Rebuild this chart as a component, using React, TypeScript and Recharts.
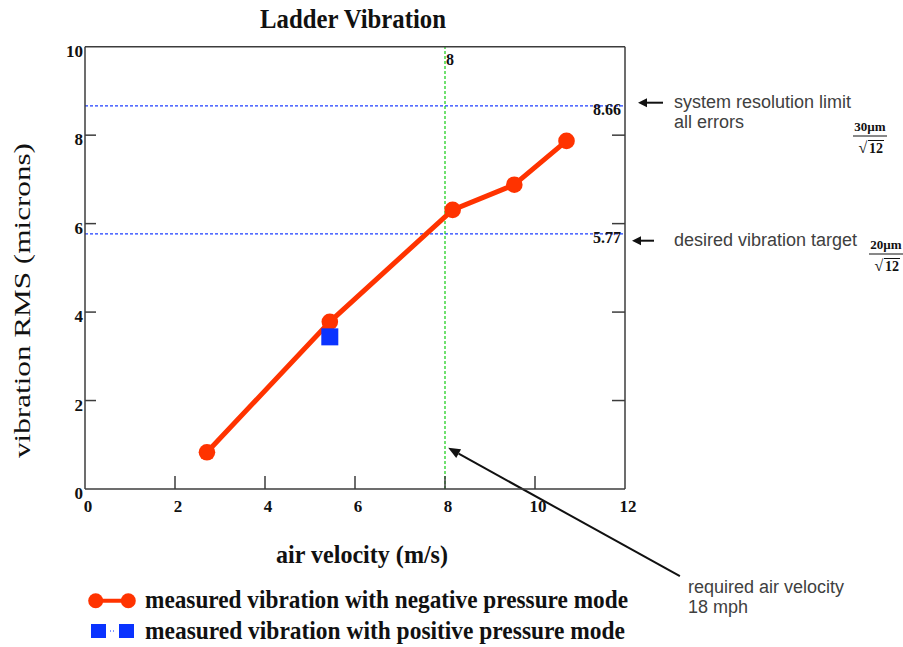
import { ComposedChart, Line, Scatter, XAxis, YAxis, ReferenceLine } from "recharts";

const velocityNegative = [2.71, 5.44, 8.17, 9.54, 10.7];
const vibrationNegative = [0.83, 3.78, 6.31, 6.88, 7.87];
const velocityPositive = [5.44];
const vibrationPositive = [3.44];
const xTicks = [0, 2, 4, 6, 8, 10, 12];
const yTicks = [0, 2, 4, 6, 8, 10];
const resolutionLimit = 8.66;
const vibrationTarget = 5.77;
const requiredVelocity = 8;
const arrowTail = { x: 13.22, y: -1.97 };
const arrowTip = { x: 8.07, y: 0.93 };

const negativeData = velocityNegative.map((x, i) => ({ x, y: vibrationNegative[i] }));
const positiveData = velocityPositive.map((x, i) => ({ x, y: vibrationPositive[i] }));

const RED = "#ff3300";
const BLUE = "#0a33ff";
const AXIS = "#3c3c3c";
const SERIF = "'Liberation Serif', 'Times New Roman', serif";
const SANS = "'Liberation Sans', Arial, sans-serif";
const GRAY = "#404040";

const LeftTick = ({ x, y, payload }: any) => (
  <g>
    {payload.value !== 0 && payload.value !== 10 && (
      <line x1={x + 2} x2={x + 13} y1={y} y2={y} stroke={AXIS} strokeWidth={1.5} />
    )}
    <text x={x} y={y + 10} textAnchor="end" fontFamily={SERIF} fontWeight="bold" fontSize={17} fill="#111">
      {payload.value}
    </text>
  </g>
);

const BottomTick = ({ x, y, payload }: any) => (
  <g>
    {payload.value !== 0 && payload.value !== 12 && (
      <line x1={x} x2={x} y1={y} y2={y - 13} stroke={AXIS} strokeWidth={1.5} />
    )}
    <text x={x + 3} y={y + 23} textAnchor="middle" fontFamily={SERIF} fontWeight="bold" fontSize={17} fill="#111">
      {payload.value}
    </text>
  </g>
);

const TopTick = ({ x, y, payload }: any) =>
  payload.value !== 0 && payload.value !== 12 ? (
    <line x1={x} x2={x} y1={y} y2={y + 14} stroke={AXIS} strokeWidth={1.5} />
  ) : (
    <g />
  );

const RightTick = ({ x, y, payload }: any) =>
  payload.value !== 0 && payload.value !== 10 ? (
    <line x1={x} x2={x - 13} y1={y} y2={y} stroke={AXIS} strokeWidth={1.5} />
  ) : (
    <g />
  );

const HLabel = ({ viewBox, value }: any) => (
  <text
    x={viewBox.x + viewBox.width - 4}
    y={viewBox.y + 9}
    textAnchor="end"
    fontFamily={SERIF}
    fontWeight="bold"
    fontSize={16}
    fill="#111"
  >
    {value}
  </text>
);

const VLabel = ({ viewBox, value }: any) => (
  <text x={viewBox.x + 5} y={viewBox.y + 18} textAnchor="middle" fontFamily={SERIF} fontWeight="bold" fontSize={16} fill="#111">
    {value}
  </text>
);

const ArrowShape = ({ x1, y1, x2, y2 }: any) => {
  const a = Math.atan2(y2 - y1, x2 - x1);
  const L = 12;
  const W = 5;
  const bx = x2 - L * Math.cos(a);
  const by = y2 - L * Math.sin(a);
  const pts = `${x2},${y2} ${bx - W * Math.sin(a)},${by + W * Math.cos(a)} ${bx + W * Math.sin(a)},${by - W * Math.cos(a)}`;
  return (
    <g>
      <line x1={x1} y1={y1} x2={bx} y2={by} stroke="#111" strokeWidth={2} />
      <polygon points={pts} fill="#111" />
    </g>
  );
};

const Square = ({ cx, cy }: any) => <rect x={cx - 8.5} y={cy - 8.5} width={17} height={17} fill={BLUE} />;

const leftArrow = (x1: number, x2: number, y: number) => (
  <g>
    <line x1={x1} x2={x2 + 8} y1={y} y2={y} stroke="#111" strokeWidth={2} />
    <polygon points={`${x2},${y} ${x2 + 9},${y - 4.5} ${x2 + 9},${y + 4.5}`} fill="#111" />
  </g>
);

const fraction = (cx: number, top: number, num: string) => (
  <g fontFamily={SERIF} fontWeight="bold" fill="#111">
    <text x={cx} y={top} textAnchor="middle" fontSize={13}>
      {num}
    </text>
    <line x1={cx - 17} x2={cx + 17} y1={top + 5} y2={top + 5} stroke="#111" strokeWidth={1} />
    <text x={cx - 7} y={top + 22} textAnchor="middle" fontSize={16} fontWeight="normal">
      {"\u221A"}
    </text>
    <line x1={cx - 2} x2={cx + 14} y1={top + 9.5} y2={top + 9.5} stroke="#111" strokeWidth={1} />
    <text x={cx + 6} y={top + 22} textAnchor="middle" fontSize={14}>
      12
    </text>
  </g>
);

export default function App() {
  return (
    <div style={{ position: "absolute", left: 0, top: 0, width: 903, height: 647, background: "#fff" }}>
      <ComposedChart width={903} height={647} margin={{ top: 36.7, right: 268, bottom: 148, left: 25 }}>
        <XAxis
          xAxisId="bottom"
          type="number"
          dataKey="x"
          domain={[0, 12]}
          ticks={xTicks}
          allowDataOverflow
          height={10}
          tickSize={0}
          tickMargin={0}
          tickLine={false}
          tick={BottomTick}
          stroke={AXIS}
          strokeWidth={1.5}
        />
        <XAxis
          xAxisId="top"
          orientation="top"
          type="number"
          domain={[0, 12]}
          ticks={xTicks}
          allowDataOverflow
          height={10}
          tickSize={0}
          tickMargin={0}
          tickLine={false}
          tick={TopTick}
          stroke={AXIS}
          strokeWidth={1.5}
        />
        <YAxis
          yAxisId="left"
          type="number"
          domain={[0, 10]}
          ticks={yTicks}
          allowDataOverflow
          width={60}
          tickSize={0}
          tickMargin={2}
          tickLine={false}
          tick={LeftTick}
          stroke={AXIS}
          strokeWidth={1.5}
        />
        <YAxis
          yAxisId="right"
          orientation="right"
          type="number"
          domain={[0, 10]}
          ticks={yTicks}
          allowDataOverflow
          width={10}
          tickSize={0}
          tickMargin={0}
          tickLine={false}
          tick={RightTick}
          stroke={AXIS}
          strokeWidth={1.5}
        />
        <ReferenceLine
          xAxisId="bottom"
          yAxisId="left"
          y={resolutionLimit}
          stroke="#1f3fff"
          strokeWidth={1.3}
          strokeDasharray="3 2"
          label={<HLabel value={resolutionLimit.toFixed(2)} />}
        />
        <ReferenceLine
          xAxisId="bottom"
          yAxisId="left"
          y={vibrationTarget}
          stroke="#1f3fff"
          strokeWidth={1.3}
          strokeDasharray="3 2"
          label={<HLabel value={vibrationTarget.toFixed(2)} />}
        />
        <ReferenceLine
          xAxisId="bottom"
          yAxisId="left"
          x={requiredVelocity}
          stroke="#11cc11"
          strokeWidth={1.2}
          strokeDasharray="3 2"
          label={<VLabel value={requiredVelocity} />}
        />
        <ReferenceLine
          xAxisId="bottom"
          yAxisId="left"
          segment={[arrowTail, arrowTip]}
          ifOverflow="visible"
          shape={ArrowShape}
        />
        <Line
          xAxisId="bottom"
          yAxisId="left"
          data={negativeData}
          dataKey="y"
          stroke={RED}
          strokeWidth={5}
          dot={{ r: 8.3, fill: RED, stroke: "none" }}
          isAnimationActive={false}
        />
        <Scatter
          xAxisId="bottom"
          yAxisId="left"
          data={positiveData}
          dataKey="y"
          fill={BLUE}
          shape={Square}
          isAnimationActive={false}
        />
      </ComposedChart>
      <svg width={903} height={647} style={{ position: "absolute", left: 0, top: 0, pointerEvents: "none" }}>
        <text
          x={353}
          y={28}
          textAnchor="middle"
          fontFamily={SERIF}
          fontWeight="bold"
          fontSize={27}
          fill="#111"
          textLength={186}
          lengthAdjust="spacingAndGlyphs"
        >
          Ladder Vibration
        </text>
        <text
          transform="translate(30, 300.5) rotate(-90)"
          textAnchor="middle"
          fontFamily={SERIF}
          fontSize={24}
          fill="#111"
          textLength={315}
          lengthAdjust="spacingAndGlyphs"
        >
          vibration RMS (microns)
        </text>
        <text
          x={362}
          y={563}
          textAnchor="middle"
          fontFamily={SERIF}
          fontWeight="bold"
          fontSize={26}
          fill="#111"
          textLength={172}
          lengthAdjust="spacingAndGlyphs"
        >
          air velocity (m/s)
        </text>

        {leftArrow(663, 638, 102.7)}
        <text x={674} y={108} fontFamily={SANS} fontSize={18} fill={GRAY}>
          system resolution limit
        </text>
        <text x={674} y={128} fontFamily={SANS} fontSize={18} fill={GRAY}>
          all errors
        </text>
        {fraction(870, 131, "30\u00B5m")}

        {leftArrow(654, 632, 240.7)}
        <text x={674} y={246} fontFamily={SANS} fontSize={18} fill={GRAY}>
          desired vibration target
        </text>
        {fraction(886, 249, "20\u00B5m")}

        <text x={688} y={593} fontFamily={SANS} fontSize={18} fill={GRAY}>
          required air velocity
        </text>
        <text x={688} y={613} fontFamily={SANS} fontSize={18} fill={GRAY}>
          18 mph
        </text>

        <line x1={95.7} x2={128.3} y1={600.7} y2={600.7} stroke={RED} strokeWidth={4} />
        <circle cx={95.7} cy={600.7} r={7.5} fill={RED} />
        <circle cx={128.3} cy={600.7} r={7.5} fill={RED} />
        <text
          x={145}
          y={608}
          fontFamily={SERIF}
          fontWeight="bold"
          fontSize={25}
          fill="#111"
          textLength={483}
          lengthAdjust="spacingAndGlyphs"
        >
          measured vibration with negative pressure mode
        </text>

        <rect x={91} y={624} width={15} height={14} fill={BLUE} />
        <rect x={119} y={624} width={15} height={14} fill={BLUE} />
        <line x1={110} x2={115} y1={631} y2={631} stroke={BLUE} strokeWidth={1} strokeDasharray="1 2" />
        <text
          x={145}
          y={639}
          fontFamily={SERIF}
          fontWeight="bold"
          fontSize={25}
          fill="#111"
          textLength={480}
          lengthAdjust="spacingAndGlyphs"
        >
          measured vibration with positive pressure mode
        </text>
      </svg>
    </div>
  );
}
